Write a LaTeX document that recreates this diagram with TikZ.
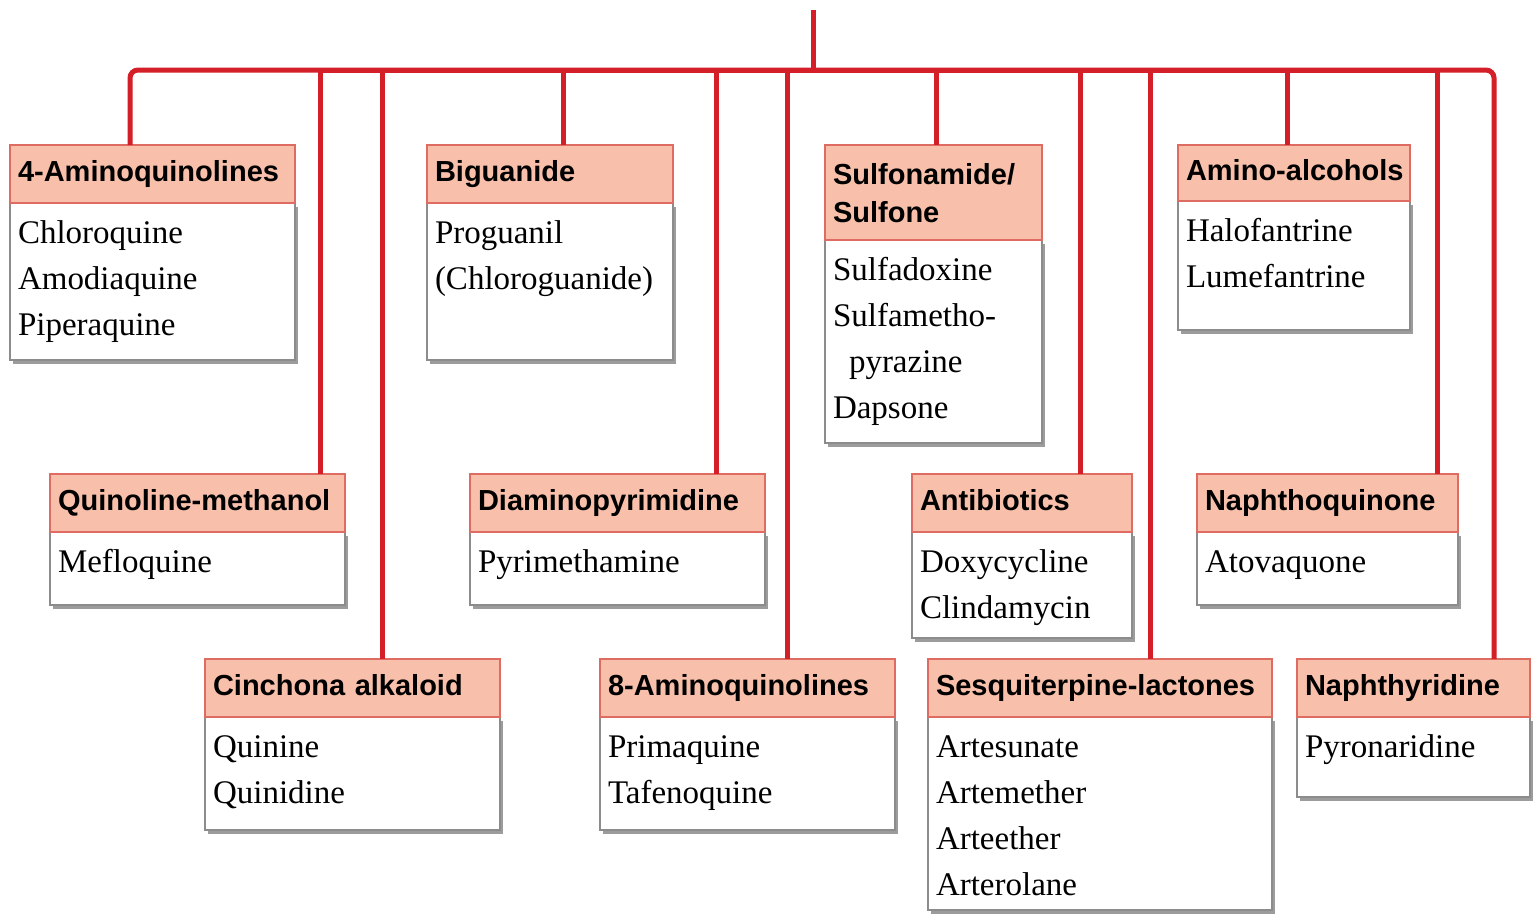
\documentclass[tikz,border=0pt]{standalone}
\usepackage{fontspec}
\setmainfont{Liberation Serif}
\setsansfont{Liberation Sans}
\usetikzlibrary{positioning,shadows}
\definecolor{wirered}{RGB}{212,30,40}
\definecolor{headfill}{RGB}{248,192,170}
\definecolor{headline}{RGB}{222,108,98}
\definecolor{bodyline}{RGB}{140,140,140}

\begin{document}
\begin{tikzpicture}[
  x=1pt, y=-1pt,
  wire/.style={draw=wirered, line width=5pt},
  head/.style={draw=headline, fill=headfill, line width=1.5pt, outer sep=0pt, inner xsep=8pt, inner ysep=0pt, minimum height=58pt, text width=#1-16pt, align=left, text height=22pt, text depth=7pt, font=\sffamily\bfseries\fontsize{29}{38}\selectfont},
  body/.style={draw=bodyline, fill=white, line width=1.2pt, outer sep=0pt, inner xsep=8pt, inner ysep=10pt, text width=#1-16pt, align=left, anchor=north west, text height=30pt, font=\fontsize{33}{46}\selectfont, drop shadow={shadow xshift=3pt, shadow yshift=-4pt, fill=black!55, opacity=.7}}
]
\useasboundingbox[fill=white] (0,0) rectangle (1535,914);
% top row
\node[body=285pt, text depth=107pt] (amq4b) at (10,203) {Chloroquine\\Amodiaquine\\Piperaquine};
\node[head=285pt, above=0pt of amq4b] (amq4h) {4-Aminoquinolines};
\node[body=246pt, text depth=107pt] (bigub) at (427,203) {Proguanil\\(Chloroguanide)};
\node[head=246pt, above=0pt of bigub] (biguh) {Biguanide};
\node[body=217pt, text depth=153pt] (sulfb) at (825,240) {Sulfadoxine\\Sulfametho-\\\hspace*{16pt}pyrazine\\Dapsone};
\node[head=217pt, minimum height=95pt, text height=28pt, text depth=45pt, above=0pt of sulfb] (sulfh) {Sulfonamide/\\Sulfone};
\node[body=232pt, text depth=79pt] (amalb) at (1178,201) {Halofantrine\\Lumefantrine};
\node[head=232pt, minimum height=56pt, above=0pt of amalb] (amalh) {\mbox{Amino-alcohols}};
% middle row
\node[body=295pt, text depth=23pt] (qmethb) at (50,532) {Mefloquine};
\node[head=295pt, above=0pt of qmethb] (qmethh) {Quinoline-methanol};
\node[body=295pt, text depth=23pt] (diamb) at (470,532) {Pyrimethamine};
\node[head=295pt, above=0pt of diamb] (diamh) {Diaminopyrimidine};
\node[body=220pt, text depth=56pt] (antib) at (912,532) {Doxycycline\\Clindamycin};
\node[head=220pt, above=0pt of antib] (antih) {Antibiotics};
\node[body=261pt, text depth=23pt] (nphqb) at (1197,532) {Atovaquone};
\node[head=261pt, above=0pt of nphqb] (nphqh) {Naphthoquinone};
% bottom row
\node[body=295pt, text depth=63pt] (cinchb) at (205,717) {Quinine\\Quinidine};
\node[head=295pt, above=0pt of cinchb] (cinchh) {Cinchona alkaloid};
\node[body=295pt, text depth=63pt] (amq8b) at (600,717) {Primaquine\\Tafenoquine};
\node[head=295pt, above=0pt of amq8b] (amq8h) {8-Aminoquinolines};
\node[body=344pt, text depth=143pt] (sesqb) at (928,717) {Artesunate\\Artemether\\Arteether\\Arterolane};
\node[head=344pt, above=0pt of sesqb] (sesqh) {Sesquiterpine-lactones};
\node[body=233pt, text depth=30pt] (nphyb) at (1297,717) {Pyronaridine};
\node[head=233pt, above=0pt of nphyb] (nphyh) {Naphthyridine};
% tree lines
\coordinate (root) at (813,10);
\coordinate (hub) at (813,70);
\draw[wire] (root) -- (hub);
\draw[wire, rounded corners=8pt] ([xshift=120pt]amq4h.north west) |- (hub) -| ([xshift=197pt]nphyh.north west);
\draw[wire] ([xshift=270pt]qmethh.north west) |- (hub);
\draw[wire] ([xshift=177pt]cinchh.north west) |- (hub);
\draw[wire] ([xshift=136pt]biguh.north west) |- (hub);
\draw[wire] ([xshift=246pt]diamh.north west) |- (hub);
\draw[wire] ([xshift=187pt]amq8h.north west) |- (hub);
\draw[wire] ([xshift=111pt]sulfh.north west) |- (hub);
\draw[wire] ([xshift=168pt]antih.north west) |- (hub);
\draw[wire] ([xshift=222pt]sesqh.north west) |- (hub);
\draw[wire] ([xshift=109pt]amalh.north west) |- (hub);
\draw[wire] ([xshift=240pt]nphqh.north west) |- (hub);
\end{tikzpicture}
\end{document}
